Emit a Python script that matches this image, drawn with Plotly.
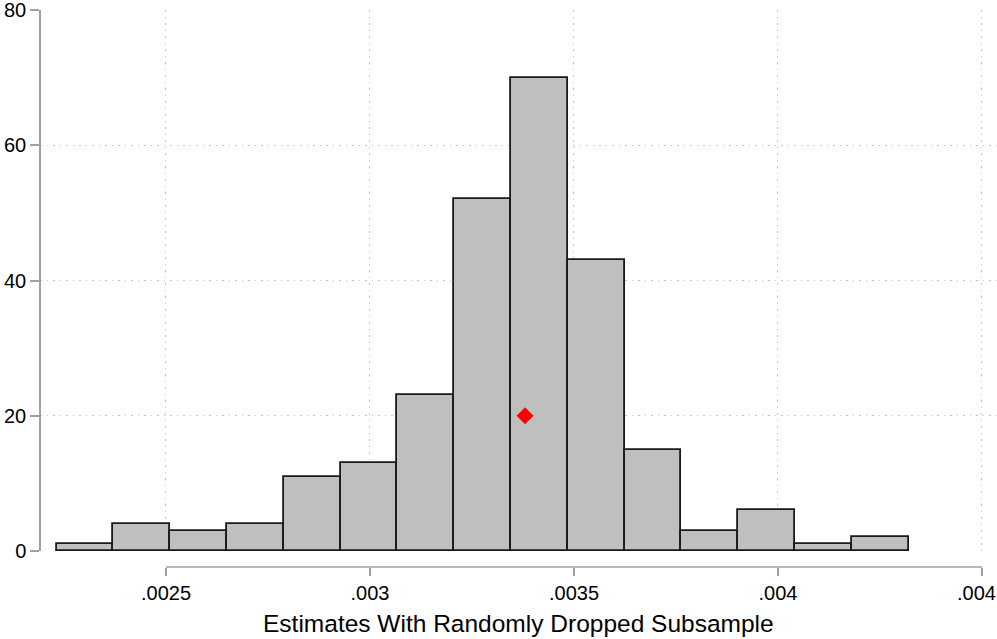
import plotly.graph_objects as go

# Histogram of estimates from repeated random subsample drops
counts = [1, 4, 3, 4, 11, 13, 23, 52, 70, 43, 15, 3, 6, 1, 2]
bin_start = 0.002232
bin_width = 0.0001392

# Full-sample point estimate, shown as a marker
point_estimate = 0.00338
point_height = 20

x_tickvals = [0.0025, 0.003, 0.0035, 0.004, 0.0045]
x_ticktext = [".0025", ".003", ".0035", ".004", ".0045"]
y_tickvals = [0, 20, 40, 60, 80]

bin_centers = [bin_start + (i + 0.5) * bin_width for i in range(len(counts))]

AXIS_GRAY = "#a0a0a0"
GRID_GRAY = "#c4c4c4"
GRID_DASH = "1.5px,5px"
FONT = "Liberation Sans, Arial, Helvetica, sans-serif"

fig = go.Figure()
fig.add_trace(go.Bar(
    x=bin_centers, y=counts, width=bin_width,
    marker=dict(color="#bfbfbf", line=dict(color="#1a1a1a", width=1.8)),
    hoverinfo="x+y", showlegend=False,
))
fig.add_trace(go.Scatter(
    x=[point_estimate], y=[point_height], mode="markers",
    marker=dict(symbol="diamond", size=13, color="#ff0000", line=dict(width=0)),
    showlegend=False,
))

fig.update_layout(
    width=997, height=639,
    margin=dict(l=40, r=0, t=10, b=72),
    paper_bgcolor="white", plot_bgcolor="white",
    font=dict(family=FONT, size=20, color="#000000"),
    bargap=0,
    xaxis=dict(
        range=[0.0021912, 0.0045368],
        anchor="free", position=0,
        tickvals=x_tickvals, ticktext=x_ticktext,
        ticks="outside", ticklen=8, tickwidth=1.5, tickcolor=AXIS_GRAY,
        showline=False, zeroline=False,
        showgrid=True, gridcolor=GRID_GRAY, griddash=GRID_DASH, gridwidth=1,
        tickfont=dict(size=20), automargin=False,
        ticklabeloverflow="allow",
    ),
    yaxis=dict(
        range=[0, 80], domain=[0.0287, 1],
        anchor="free", position=0,
        tickvals=y_tickvals,
        ticks="outside", ticklen=9, tickwidth=1.5, tickcolor=AXIS_GRAY,
        showline=True, linecolor=AXIS_GRAY, linewidth=1.5,
        zeroline=False,
        showgrid=True, gridcolor=GRID_GRAY, griddash=GRID_DASH, gridwidth=1,
        tickfont=dict(size=20), automargin=False,
        ticklabeloverflow="allow",
    ),
    shapes=[dict(
        type="line", xref="x", yref="paper",
        x0=x_tickvals[0], x1=x_tickvals[-1], y0=0, y1=0,
        line=dict(color=AXIS_GRAY, width=1.5),
    )],
    annotations=[dict(
        text="Estimates With Randomly Dropped Subsample",
        xref="paper", yref="paper", x=0.5, y=0, yshift=-56,
        xanchor="center", yanchor="middle", showarrow=False,
        font=dict(size=24.5, family=FONT),
    )],
)

fig.write_html("out.html")
